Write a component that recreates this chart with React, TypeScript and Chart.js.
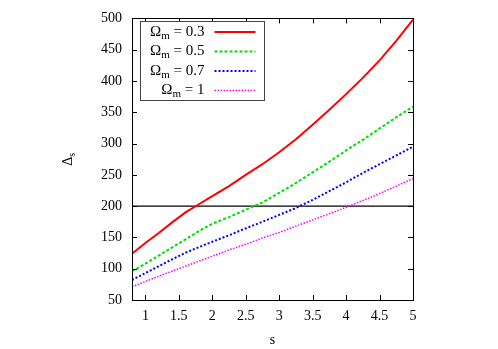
import React, { useEffect, useRef } from "react";
import { Chart, registerables } from "chart.js";

Chart.register(...registerables);

const S = [0.8, 1, 1.2, 1.4, 1.6, 1.8, 2, 2.25, 2.5, 2.75, 3, 3.25, 3.5, 3.75, 4, 4.25, 4.5, 4.75, 5];
const OM03 = [124, 141, 157, 174, 190, 203, 216, 232, 250, 267, 286, 307, 330, 354, 379, 405, 433, 464, 498];
const OM05 = [96, 108, 121, 134, 147, 160, 172, 182.5, 194, 206, 221, 237, 254, 271, 289, 306, 324, 342, 359];
const OM07 = [82, 93, 104, 115, 125.5, 134.5, 143, 153.5, 164.5, 175, 186, 197, 210, 224, 238, 253, 267, 281, 295];
const OM10 = [71, 79.5, 88, 96, 104, 112, 120, 130, 139, 149, 158, 168, 178, 188, 198, 209, 220, 232, 244];
const LEGEND_VALUES = ["0.3", "0.5", "0.7", "1"];
const X_TICKS = [1, 1.5, 2, 2.5, 3, 3.5, 4, 4.5, 5];
const Y_TICKS = [50, 100, 150, 200, 250, 300, 350, 400, 450, 500];
const REF_LEVEL = 200;

const FONT = "'Liberation Serif', 'Times New Roman', serif";
const COLORS = ["#ff0000", "#00e000", "#0000ff", "#ff00ff"];
const DASHES: number[][] = [[], [3, 2], [2, 2], [1.5, 1.5]];
const WIDTHS = [2, 2, 2, 1.5];

const framePlugin = {
  id: "framePlugin",
  afterDraw(chart: any) {
    const { ctx, chartArea } = chart;
    const { left, right, top, bottom } = chartArea;
    const xs = chart.scales.x;
    const ys = chart.scales.y;
    ctx.save();
    ctx.strokeStyle = "#000";
    ctx.lineWidth = 1;
    ctx.setLineDash([]);
    ctx.beginPath();
    const tl = 5;
    X_TICKS.forEach((v) => {
      const px = Math.round(xs.getPixelForValue(v)) + 0.5;
      ctx.moveTo(px, bottom);
      ctx.lineTo(px, bottom - tl);
      ctx.moveTo(px, top);
      ctx.lineTo(px, top + tl);
    });
    Y_TICKS.forEach((v) => {
      const py = Math.round(ys.getPixelForValue(v)) + 0.5;
      ctx.moveTo(left, py);
      ctx.lineTo(left + tl, py);
      ctx.moveTo(right, py);
      ctx.lineTo(right - tl, py);
    });
    ctx.stroke();
    ctx.strokeRect(Math.round(left) + 0.5, Math.round(top) + 0.5, Math.round(right - left), Math.round(bottom - top));

    // Legend
    const bx = Math.round(left) + 8.5;
    const by = Math.round(top) + 3.5;
    const bw = 124;
    const bh = 79;
    ctx.fillStyle = "#fff";
    ctx.fillRect(bx, by, bw, bh);
    ctx.strokeStyle = "#444";
    ctx.strokeRect(bx, by, bw, bh);
    const textRight = bx + 64;
    const big = "15px " + FONT;
    const small = "11px " + FONT;
    ctx.textBaseline = "middle";
    LEGEND_VALUES.forEach((val, i) => {
      const cy = by + 10.5 + i * 19.5;
      ctx.font = big;
      const rest = " = " + val;
      const wRest = ctx.measureText(rest).width;
      const wO = ctx.measureText("Ω").width;
      ctx.font = small;
      const wm = ctx.measureText("m").width;
      const x0 = textRight - wRest - wm - wO;
      ctx.fillStyle = "#000";
      ctx.textAlign = "left";
      ctx.font = big;
      ctx.fillText("Ω", x0, cy);
      ctx.font = small;
      ctx.fillText("m", x0 + wO, cy + 4);
      ctx.font = big;
      ctx.fillText(rest, x0 + wO + wm, cy);
      ctx.strokeStyle = COLORS[i];
      ctx.lineWidth = WIDTHS[i];
      ctx.setLineDash(DASHES[i]);
      ctx.beginPath();
      ctx.moveTo(bx + 74, cy);
      ctx.lineTo(bx + 115, cy);
      ctx.stroke();
    });
    ctx.setLineDash([]);

    // Axis titles
    const tfont = "14px " + FONT;
    const tsmall = "10px " + FONT;
    ctx.fillStyle = "#000";
    ctx.font = tfont;
    ctx.textAlign = "center";
    ctx.textBaseline = "middle";
    ctx.fillText("s", (left + right) / 2, bottom + 40);
    ctx.save();
    ctx.translate(left - 64, (top + bottom) / 2);
    ctx.rotate(-Math.PI / 2);
    ctx.textAlign = "left";
    const wD = ctx.measureText("Δ").width;
    ctx.font = tsmall;
    const ws = ctx.measureText("s").width;
    const startX = -(wD + ws) / 2;
    ctx.font = tfont;
    ctx.fillText("Δ", startX, 0);
    ctx.font = tsmall;
    ctx.fillText("s", startX + wD, 4);
    ctx.restore();
    ctx.restore();
  },
};

function pts(vals: number[]) {
  return S.map((s, i) => ({ x: s, y: vals[i] }));
}

export default function App() {
  const ref = useRef<HTMLCanvasElement | null>(null);
  useEffect(() => {
    document.body.style.margin = "0";
    const series = [OM03, OM05, OM07, OM10];
    const datasets: any[] = series.map((vals, i) => ({
      label: "Ωm = " + LEGEND_VALUES[i],
      data: pts(vals),
      borderColor: COLORS[i],
      borderWidth: WIDTHS[i],
      borderDash: DASHES[i],
      pointRadius: 0,
      tension: 0,
      fill: false,
    }));
    datasets.push({
      label: "ref",
      data: [
        { x: S[0], y: REF_LEVEL },
        { x: S[S.length - 1], y: REF_LEVEL },
      ],
      borderColor: "#000",
      borderWidth: 1.2,
      pointRadius: 0,
      fill: false,
    });
    const chart = new Chart(ref.current as HTMLCanvasElement, {
      type: "line",
      data: { datasets },
      options: {
        animation: false,
        responsive: false,
        maintainAspectRatio: false,
        layout: { padding: { top: 18, right: 85, left: 0, bottom: 0 } },
        plugins: { legend: { display: false }, tooltip: { enabled: false } },
        scales: {
          x: {
            type: "linear",
            min: 0.8,
            max: 5,
            grid: { display: false, drawTicks: false },
            border: { display: false },
            afterBuildTicks: (scale: any) => {
              scale.ticks = X_TICKS.map((v) => ({ value: v }));
            },
            afterFit: (scale: any) => {
              scale.height = 49;
            },
            ticks: {
              padding: 8,
              color: "#000",
              font: { family: FONT, size: 14 },
              maxRotation: 0,
              autoSkip: false,
              callback: (v: any) => String(v),
            },
          },
          y: {
            type: "linear",
            min: 50,
            max: 500,
            grid: { display: false, drawTicks: false },
            border: { display: false },
            afterBuildTicks: (scale: any) => {
              scale.ticks = Y_TICKS.map((v) => ({ value: v }));
            },
            afterFit: (scale: any) => {
              scale.width = 132;
            },
            ticks: {
              padding: 10,
              color: "#000",
              font: { family: FONT, size: 14 },
              autoSkip: false,
              callback: (v: any) => String(v),
            },
          },
        },
      },
      plugins: [framePlugin],
    });
    return () => chart.destroy();
  }, []);
  return (
    <div style={{ position: "absolute", left: 0, top: 0, width: 498, height: 349, background: "#fff" }}>
      <canvas ref={ref} width={498} height={349} style={{ width: 498, height: 349, display: "block" }} />
    </div>
  );
}
